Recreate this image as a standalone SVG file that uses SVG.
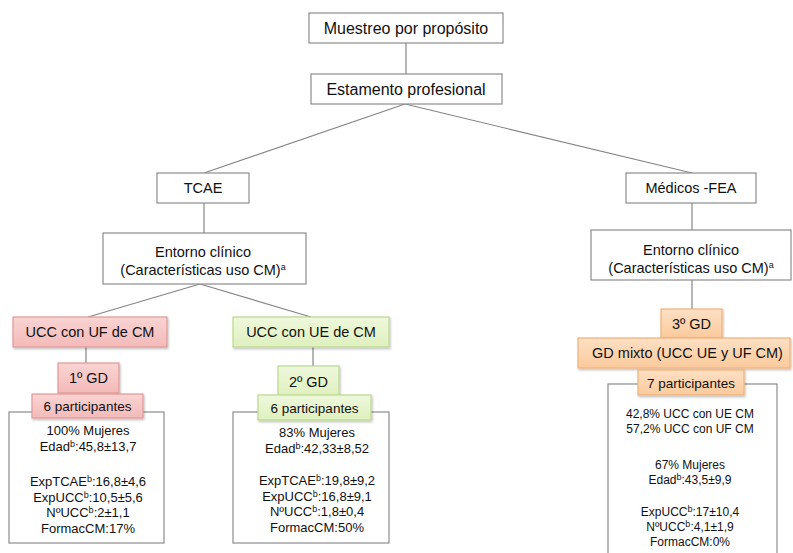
<svg xmlns="http://www.w3.org/2000/svg" width="793" height="553" viewBox="0 0 793 553">
  <style>
    text { font-family: "Liberation Sans", Arial, sans-serif; fill: #111; text-anchor: middle; }
    .plain { fill: #fff; stroke: #8c8c8c; stroke-width: 1.2; }
    .data { fill: #fff; stroke: #8c8c8c; stroke-width: 1.2; }
    .red { fill: url(#gRed); stroke: #e09a98; stroke-width: 1.2; filter: url(#shadow); }
    .green { fill: url(#gGreen); stroke: #bcd98e; stroke-width: 1.2; filter: url(#shadow); }
    .orange { fill: url(#gOrange); stroke: #f1b27a; stroke-width: 1.2; filter: url(#shadow); }
    .t16 { font-size: 16px; }
    .t145 { font-size: 14.5px; }
    .t135 { font-size: 13.5px; }
    .t13 { font-size: 13px; }
    .t12 { font-size: 12px; }
    .sup { font-size: 9px; }
    #connectors line { stroke: #858585; stroke-width: 1.2; }
  </style>
  <defs>
    <linearGradient id="gRed" x1="0" y1="0" x2="0" y2="1">
      <stop offset="0" stop-color="#f9d4d3"/>
      <stop offset="1" stop-color="#f3bab9"/>
    </linearGradient>
    <linearGradient id="gGreen" x1="0" y1="0" x2="0" y2="1">
      <stop offset="0" stop-color="#eef8dc"/>
      <stop offset="1" stop-color="#dff0be"/>
    </linearGradient>
    <linearGradient id="gOrange" x1="0" y1="0" x2="0" y2="1">
      <stop offset="0" stop-color="#fde0c4"/>
      <stop offset="1" stop-color="#fbca9c"/>
    </linearGradient>
    <filter id="shadow" x="-10%" y="-20%" width="120%" height="150%">
      <feDropShadow dx="1" dy="1.5" stdDeviation="1.2" flood-color="#000" flood-opacity="0.25"/>
    </filter>
  </defs>

  <!-- connectors -->
  <g id="connectors">
    <line x1="406" y1="43" x2="406" y2="74"/>
    <line x1="405" y1="104" x2="204" y2="173"/>
    <line x1="405" y1="104" x2="692" y2="173"/>
    <line x1="204" y1="203" x2="204" y2="233"/>
    <line x1="692" y1="203" x2="692" y2="230"/>
    <line x1="200" y1="284" x2="88" y2="317"/>
    <line x1="200" y1="284" x2="311" y2="317"/>
    <line x1="86" y1="347" x2="86" y2="363"/>
    <line x1="313" y1="347" x2="313" y2="366"/>
    <line x1="692" y1="280" x2="692" y2="309"/>
  </g>

  <g id="muestreo">
    <rect class="plain" x="309" y="13" width="194" height="30"/>
    <text class="t16" x="406" y="33.5">Muestreo por propósito</text>
  </g>
  <g id="estamento">
    <rect class="plain" x="311" y="74" width="191" height="30"/>
    <text class="t16" x="406" y="94.5">Estamento profesional</text>
  </g>
  <g id="tcae">
    <rect class="plain" x="157" y="173" width="92" height="30"/>
    <text class="t145" x="203" y="193">TCAE</text>
  </g>
  <g id="medicos">
    <rect class="plain" x="626" y="173" width="130" height="30"/>
    <text class="t145" x="691" y="193">Médicos -FEA</text>
  </g>
  <g id="entorno-tcae">
    <rect class="plain" x="103" y="233" width="203" height="51"/>
    <text class="t145" x="203" y="257">Entorno clínico</text>
    <text class="t145" x="203" y="275">(Características uso CM)<tspan class="sup" dy="-5">a</tspan></text>
  </g>
  <g id="entorno-medicos">
    <rect class="plain" x="591" y="230" width="200" height="50"/>
    <text class="t145" x="691" y="255">Entorno clínico</text>
    <text class="t145" x="691" y="273">(Características uso CM)<tspan class="sup" dy="-5">a</tspan></text>
  </g>

  <!-- group 1 -->
  <g id="ucc-uf">
    <rect class="red" x="13" y="317" width="154" height="30"/>
    <text class="t145" x="90" y="337">UCC con UF de CM</text>
  </g>
  <g id="gd1-data">
    <rect class="data" x="9" y="412" width="155" height="131"/>
    <text class="t13" x="88" y="435">100% Mujeres</text>
    <text class="t13" x="88" y="450.5">Edad<tspan class="sup" dy="-4">b</tspan><tspan dy="4">:45,8±13,7</tspan></text>
    <text class="t13" x="88" y="486">ExpTCAE<tspan class="sup" dy="-4">b</tspan><tspan dy="4">:16,8±4,6</tspan></text>
    <text class="t13" x="88" y="501.5">ExpUCC<tspan class="sup" dy="-4">b</tspan><tspan dy="4">:10,5±5,6</tspan></text>
    <text class="t13" x="88" y="517">NºUCC<tspan class="sup" dy="-4">b</tspan><tspan dy="4">:2±1,1</tspan></text>
    <text class="t13" x="88" y="532.5">FormacCM:17%</text>
  </g>
  <g id="gd1">
    <rect class="red" x="58" y="363" width="61" height="30"/>
    <text class="t145" x="88.5" y="383">1º GD</text>
  </g>
  <g id="gd1-part">
    <rect class="red" x="32" y="394" width="111" height="24"/>
    <text class="t135" x="87.5" y="411">6 participantes</text>
  </g>

  <!-- group 2 -->
  <g id="ucc-ue">
    <rect class="green" x="233" y="317" width="156" height="30"/>
    <text class="t145" x="311" y="337">UCC con UE de CM</text>
  </g>
  <g id="gd2-data">
    <rect class="data" x="233" y="412" width="156" height="131"/>
    <text class="t13" x="317" y="437">83% Mujeres</text>
    <text class="t13" x="317" y="452.5">Edad<tspan class="sup" dy="-4">b</tspan><tspan dy="4">:42,33±8,52</tspan></text>
    <text class="t13" x="317" y="485">ExpTCAE<tspan class="sup" dy="-4">b</tspan><tspan dy="4">:19,8±9,2</tspan></text>
    <text class="t13" x="317" y="500.5">ExpUCC<tspan class="sup" dy="-4">b</tspan><tspan dy="4">:16,8±9,1</tspan></text>
    <text class="t13" x="317" y="516">NºUCC<tspan class="sup" dy="-4">b</tspan><tspan dy="4">:1,8±0,4</tspan></text>
    <text class="t13" x="317" y="531.5">FormacCM:50%</text>
  </g>
  <g id="gd2">
    <rect class="green" x="278" y="366" width="61" height="31"/>
    <text class="t145" x="308.5" y="386.5">2º GD</text>
  </g>
  <g id="gd2-part">
    <rect class="green" x="258" y="395" width="113" height="25"/>
    <text class="t135" x="314.5" y="412.5">6 participantes</text>
  </g>

  <!-- group 3 -->
  <g id="gd3-data">
    <rect class="data" x="608" y="384" width="169" height="175"/>
    <text class="t12" x="690" y="418">42,8% UCC con UE CM</text>
    <text class="t12" x="690" y="433">57,2% UCC con UF CM</text>
    <text class="t12" x="690" y="468.5">67% Mujeres</text>
    <text class="t12" x="690" y="483.5">Edad<tspan class="sup" dy="-4">b</tspan><tspan dy="4">:43,5±9,9</tspan></text>
    <text class="t12" x="690" y="516">ExpUCC<tspan class="sup" dy="-4">b</tspan><tspan dy="4">:17±10,4</tspan></text>
    <text class="t12" x="690" y="531">NºUCC<tspan class="sup" dy="-4">b</tspan><tspan dy="4">:4,1±1,9</tspan></text>
    <text class="t12" x="690" y="545.5">FormacCM:0%</text>
  </g>
  <g id="gd3">
    <rect class="orange" x="661" y="309" width="61" height="29"/>
    <text class="t145" x="691.5" y="328.5">3º GD</text>
  </g>
  <g id="gd-mixto">
    <rect class="orange" x="578" y="338" width="212" height="30"/>
    <text class="t145" x="687.5" y="358">GD mixto (UCC UE y UF CM)</text>
  </g>
  <g id="gd3-part">
    <rect class="orange" x="638" y="370" width="106" height="25"/>
    <text class="t135" x="691" y="387.5">7 participantes</text>
  </g>
</svg>
